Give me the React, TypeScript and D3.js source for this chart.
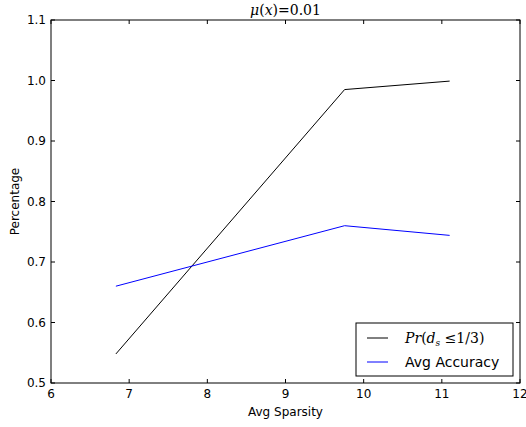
import React from "react";
import * as d3 from "d3";

const sparsity = [6.83, 9.756, 11.1];
const prValues = [0.548, 0.985, 0.999];
const accValues = [0.66, 0.76, 0.744];
const xTicks = [6, 7, 8, 9, 10, 11, 12];
const yTicks = [0.5, 0.6, 0.7, 0.8, 0.9, 1.0, 1.1];

const W = 526, H = 427;
const L = 51, R = 520, T = 20, B = 383;

export default function App() {
  const x = d3.scaleLinear().domain([6, 12]).range([L, R]);
  const y = d3.scaleLinear().domain([0.5, 1.1]).range([B, T]);
  const line = d3.line<number>().x((_, i) => x(sparsity[i])).y((d) => y(d));
  const font = "DejaVu Sans";
  const mathFont = "DejaVu Serif";
  return (
    <svg width={W} height={H} style={{ position: "absolute", left: 0, top: 0 }}>
      <rect x={0} y={0} width={W} height={H} fill="#fff" />
      <path d={line(prValues)!} fill="none" stroke="#000" strokeWidth={1} />
      <path d={line(accValues)!} fill="none" stroke="#0000ff" strokeWidth={1} />
      <rect x={L} y={T} width={R - L} height={B - T} fill="none" stroke="#000" strokeWidth={1} />
      {xTicks.map((t) => (
        <g key={"x" + t}>
          <line x1={x(t)} x2={x(t)} y1={B} y2={B - 4} stroke="#000" />
          <line x1={x(t)} x2={x(t)} y1={T} y2={T + 4} stroke="#000" />
          <text x={x(t)} y={398} textAnchor="middle" fontFamily={font} fontSize={12}>{t}</text>
        </g>
      ))}
      {yTicks.map((t) => (
        <g key={"y" + t}>
          <line x1={L} x2={L + 4} y1={y(t)} y2={y(t)} stroke="#000" />
          <line x1={R} x2={R - 4} y1={y(t)} y2={y(t)} stroke="#000" />
          <text x={46} y={y(t) + 4} textAnchor="end" fontFamily={font} fontSize={12}>{t.toFixed(1)}</text>
        </g>
      ))}
      <text x={(L + R) / 2} y={416} textAnchor="middle" fontFamily={font} fontSize={12}>Avg Sparsity</text>
      <text transform={`translate(19,${(T + B) / 2}) rotate(-90)`} textAnchor="middle" fontFamily={font} fontSize={12}>Percentage</text>
      <text x={(L + R) / 2} y={15} textAnchor="middle" fontFamily={mathFont} fontSize={14}>
        <tspan fontStyle="italic">μ</tspan>(<tspan fontStyle="italic">x</tspan>)=0.01
      </text>
      <g>
        <rect x={356} y={323} width={157} height={53} fill="#fff" stroke="#000" strokeWidth={1} />
        <line x1={367} x2={388} y1={338} y2={338} stroke="#000" />
        <line x1={367} x2={388} y1={362} y2={362} stroke="#0000ff" />
        <text x={405} y={343} fontFamily={mathFont} fontSize={14}>
          <tspan fontStyle="italic">Pr</tspan>(<tspan fontStyle="italic">d</tspan><tspan fontStyle="italic" fontSize={9} dy={3}>s</tspan><tspan dy={-3}> ≤1/3)</tspan>
        </text>
        <text x={405} y={367} fontFamily={font} fontSize={14}>Avg Accuracy</text>
      </g>
    </svg>
  );
}
